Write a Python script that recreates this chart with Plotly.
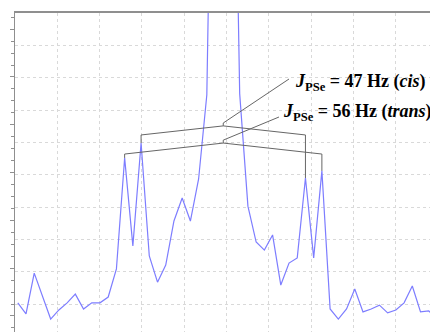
import plotly.graph_objects as go

# ---- data ----
# spectrum intensities, uniformly sampled
intensity = [1.04, 0.70, 1.96, 1.25, 0.54, 0.82, 1.04, 1.31, 0.85, 1.04,
             1.04, 1.22, 2.09, 5.52, 2.80, 5.98, 2.49, 1.68, 2.21, 3.57,
             4.28, 3.57, 4.87, 7.47, 22.0, 38.0, 22.0, 7.50, 4.03, 2.92,
             2.67, 3.14, 1.59, 2.27, 2.43, 4.90, 2.43, 5.12, 0.85, 0.54,
             0.85, 1.47, 0.76, 0.85, 0.97, 0.73, 0.82, 1.04, 1.56, 0.76,
             0.79, 0.54]
x_start = 0.066
x_step = 0.1943
freq = [x_start + x_step * i for i in range(len(intensity))]

# satellite peaks (indices) joined by the coupling brackets
cis_pair = (15, 35)     # J = 47 Hz
trans_pair = (13, 37)   # J = 56 Hz
labels = ["<b><i>J</i><sub>PSe</sub> = 47 Hz (<i>cis</i>)</b>",
          "<b><i>J</i><sub>PSe</sub> = 56 Hz (<i>trans</i>)</b>"]

# ---- style ----
BLUE = "#7d7dff"
GRAY = "#666666"
AXIS = "#8f8f8f"
GRID = "#d9d9d9"
Y_RANGE = [0.139, 10]

fig = go.Figure()
fig.add_trace(go.Scatter(x=freq, y=intensity, mode="lines",
                         line=dict(color=BLUE, width=1.2),
                         showlegend=False, hoverinfo="skip"))
fig.add_trace(go.Scatter(x=[None], y=[None], yaxis="y2",
                         showlegend=False, hoverinfo="skip"))

shapes = []
annotations = []
# bracket geometry: (pair, end level, apex level, notch top, pointer end, label pos)
brackets = [
    (cis_pair, 6.23, 6.51, 6.60, (6.478, 7.96), (6.58, 7.85), labels[0]),
    (trans_pair, 5.64, 5.98, 6.07, (6.241, 6.785), (6.29, 6.92), labels[1]),
]
for (a, b), end_lv, apex_lv, notch_lv, ptr, lab, text in brackets:
    xa, xb = freq[a], freq[b]
    xm = (xa + xb) / 2
    segs = [
        (xa, intensity[a], xa, end_lv),
        (xa, end_lv, xm, apex_lv),
        (xm, apex_lv, xb, end_lv),
        (xb, end_lv, xb, intensity[b]),
        (xm, apex_lv, xm, notch_lv),
        (xm, notch_lv, ptr[0], ptr[1]),
    ]
    for x0, y0, x1, y1 in segs:
        shapes.append(dict(type="line", xref="x", yref="y",
                           x0=x0, y0=y0, x1=x1, y1=y1,
                           line=dict(color=GRAY, width=1)))
    annotations.append(dict(x=lab[0], y=lab[1], xref="x", yref="y",
                            text=text, showarrow=False,
                            xanchor="left", yanchor="middle",
                            font=dict(family="Liberation Serif", size=18,
                                      color="black")))

# the page body adds an 8px offset, so the figure is 8px smaller and the
# margins are 8px smaller to put the plot area where the reference has it
fig.update_layout(
    width=430, height=324,
    margin=dict(l=7, r=0, t=5, b=0, autoexpand=False),
    paper_bgcolor="white", plot_bgcolor="white",
    shapes=shapes, annotations=annotations,
    xaxis=dict(range=[0, 10], side="top", showline=True, linecolor=AXIS,
               linewidth=1.5, showgrid=True, gridcolor=GRID, griddash="dot",
               gridwidth=1, dtick=1, tick0=0, ticks="", automargin=False,
               showticklabels=False, zeroline=False),
    yaxis=dict(range=Y_RANGE, showgrid=True, gridcolor=GRID, griddash="dot",
               gridwidth=1, dtick=1, tick0=0, ticks="", showline=False,
               automargin=False, showticklabels=False, zeroline=False),
    yaxis2=dict(range=Y_RANGE, overlaying="y", side="left", anchor="x",
                showgrid=False, zeroline=False, showline=True,
                linecolor=AXIS, linewidth=1.3, automargin=False,
                tickmode="linear", tick0=0.634, dtick=1.4776,
                ticks="outside", ticklen=4, tickcolor=AXIS, tickwidth=1,
                showticklabels=False,
                minor=dict(tick0=0.634, dtick=0.3694, ticks="outside",
                           ticklen=2.5, tickcolor=AXIS, showgrid=False)),
)

fig.write_html("out.html")
